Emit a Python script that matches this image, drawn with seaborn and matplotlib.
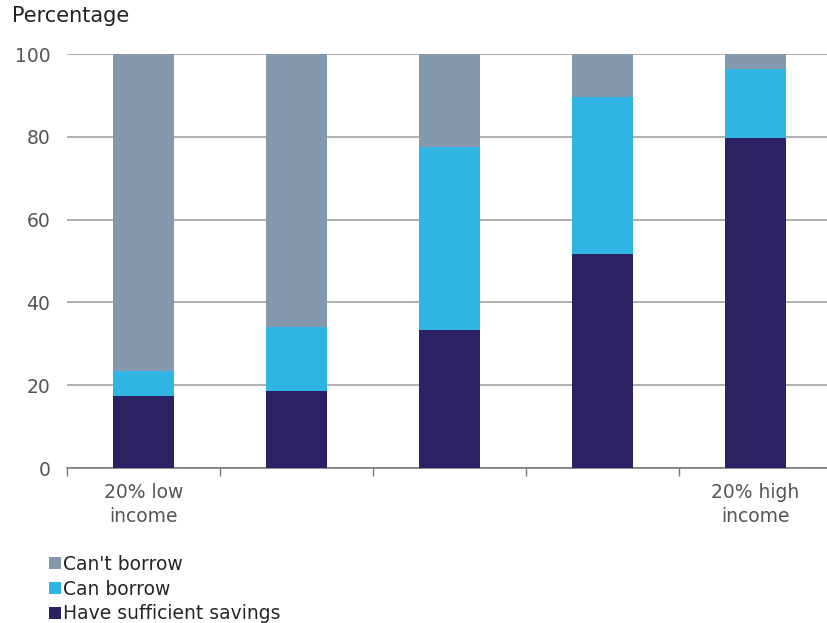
import matplotlib
matplotlib.use("Agg")
import matplotlib.pyplot as plt
from matplotlib.lines import Line2D
import numpy as np
import pandas as pd
import seaborn as sns

# Income quintiles, lowest to highest
groups = ["Q1", "Q2", "Q3", "Q4", "Q5"]
tick_labels = ["20% low\nincome", "", "", "", "20% high\nincome"]

# Share of households (%) per quintile
have_savings = [17.4, 18.7, 33.3, 51.8, 79.8]
can_borrow = [6.0, 15.4, 44.2, 37.8, 16.6]
cant_borrow = [76.6, 65.9, 22.5, 10.4, 3.6]

colors = {"Have sufficient savings": "#2c2163",
          "Can borrow": "#2fb4e3",
          "Can't borrow": "#8499ae"}

df = pd.DataFrame({"group": groups,
                   "Have sufficient savings": have_savings,
                   "Can borrow": can_borrow,
                   "Can't borrow": cant_borrow})
# cumulative tops for stacking (drawn back to front)
df["top_savings"] = df["Have sufficient savings"]
df["top_borrow"] = df["top_savings"] + df["Can borrow"]
df["top_all"] = df["top_borrow"] + df["Can't borrow"]

sns.set_style("white")
plt.rcParams["font.family"] = ["DejaVu Sans"]

FS = 13.5
fig = plt.figure(figsize=(8.27, 6.23), dpi=100)
W, H = 827, 623
ax = fig.add_axes([67 / W, (H - 468) / H, 765 / W, 414 / H])

for col, name in [("top_all", "Can't borrow"),
                  ("top_borrow", "Can borrow"),
                  ("top_savings", "Have sufficient savings")]:
    sns.barplot(data=df, x="group", y=col, color=colors[name], width=0.4,
                saturation=1, linewidth=0, ax=ax, zorder=3)

ax.set_xlim(-0.5, 4.5)
ax.set_ylim(0, 100)
ax.set_yticks([0, 20, 40, 60, 80, 100])
ax.yaxis.grid(True, color="#9a9a9a", linewidth=1.1, zorder=0)
ax.set_axisbelow(True)
ax.set_xlabel("")
ax.set_ylabel("")

for s in ["top", "right", "left"]:
    ax.spines[s].set_visible(False)
ax.spines["bottom"].set_color("#7a7a7a")
ax.spines["bottom"].set_linewidth(1.2)

ax.set_xticks(range(len(groups)))
ax.set_xticklabels(tick_labels, fontsize=FS, color="#555555", linespacing=1.3)
ax.set_xticks(np.arange(-0.5, 4.5, 1.0), minor=True)
ax.tick_params(axis="x", which="major", length=0, pad=11)
ax.tick_params(axis="x", which="minor", length=6, width=1, color="#7a7a7a",
               direction="out", bottom=True)
ax.tick_params(axis="y", length=0, labelsize=FS, labelcolor="#555555", pad=12)

fig.text(12 / W, 1 - 16 / H, "Percentage", fontsize=15, color="#222222",
         va="center", ha="left")

names = ["Can't borrow", "Can borrow", "Have sufficient savings"]
handles = [Line2D([], [], marker="s", linestyle="none", markersize=8.5,
                  markerfacecolor=colors[n], markeredgewidth=0)
           for n in names]
fig.legend(handles, names,
           loc="upper left", bbox_to_anchor=(49 / W, 1 - 555 / H),
           frameon=False, fontsize=FS, handlelength=0.6, handletextpad=0.15,
           labelspacing=0.3, borderaxespad=0, borderpad=0)

fig.savefig("out.png", dpi=100)
